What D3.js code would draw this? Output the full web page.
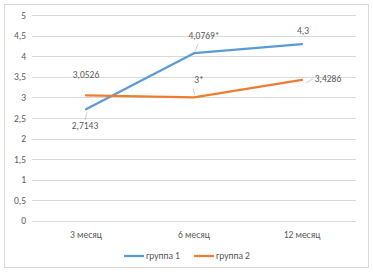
<!DOCTYPE html>
<html>
<head>
<meta charset="utf-8">
<script src="https://cdn.jsdelivr.net/npm/d3@7"></script>
<style>
  body { margin: 0; background: #fff; }
  text { font-family: Calibri, "Carlito", "Liberation Sans", "DejaVu Sans", sans-serif; fill: #595959; }
</style>
</head>
<body>
<svg id="chart"></svg>
<script>
(function () {
    const width = 373;
    const height = 276;

    const categories = ["3 месяц", "6 месяц", "12 месяц"];
    const group1 = [2.7143, 4.0769, 4.3];
    const group2 = [3.0526, 3, 3.4286];
    const labels1 = ["2,7143", "4,0769*", "4,3"];
    const labels2 = ["3,0526", "3*", "3,4286"];
    const yTicks = [0, 0.5, 1, 1.5, 2, 2.5, 3, 3.5, 4, 4.5, 5];
    const seriesNames = ["группа 1", "группа 2"];
    const colors = ["#5B9BD5", "#ED7D31"];

    const svg = d3.select("#chart")
        .attr("width", width)
        .attr("height", height);

    // chart frame
    svg.append("rect")
        .attr("x", 4.5).attr("y", 4.5)
        .attr("width", 364).attr("height", 263)
        .attr("fill", "#fff")
        .attr("stroke", "#d9d9d9");

    const x = d3.scaleBand().domain(categories).range([32, 356]);
    const y = d3.scaleLinear().domain([0, 5]).range([220.7, 15.3]);

    // gridlines
    svg.append("g")
        .selectAll("line")
        .data(yTicks)
        .join("line")
        .attr("x1", 32).attr("x2", 356)
        .attr("y1", d => Math.round(y(d)) + 0.5)
        .attr("y2", d => Math.round(y(d)) + 0.5)
        .attr("stroke", "#d9d9d9")
        .attr("stroke-width", 1);

    // y tick labels
    svg.append("g")
        .selectAll("text")
        .data(yTicks)
        .join("text")
        .attr("x", 26)
        .attr("y", d => y(d) + 3.5)
        .attr("text-anchor", "end")
        .attr("font-size", 9.5)
        .text(d => String(d).replace(".", ","));

    // category labels
    svg.append("g")
        .selectAll("text")
        .data(categories)
        .join("text")
        .attr("x", d => x(d) + x.bandwidth() / 2)
        .attr("y", 238)
        .attr("text-anchor", "middle")
        .attr("font-size", 9.5)
        .text(d => d);

    const cx = i => x(categories[i]) + x.bandwidth() / 2;

    const line = d3.line()
        .x((d, i) => cx(i))
        .y(d => y(d));

    [group1, group2].forEach((s, k) => {
        svg.append("path")
            .datum(s)
            .attr("fill", "none")
            .attr("stroke", colors[k])
            .attr("stroke-width", 2.25)
            .attr("stroke-linejoin", "round")
            .attr("stroke-linecap", "round")
            .attr("d", line);
    });

    // data labels: offsets relative to the point, plus leader line flag
    const labelPos1 = [[-1, 20, true], [10, -14, true], [1, -10, false]];
    const labelPos2 = [[0, -17, false], [5, -14, true], [26, 2, true]];

    function drawLabels(s, texts, pos) {
        s.forEach((v, i) => {
            const px = cx(i), py = y(v);
            const [dx, dy, leader] = pos[i];
            if (leader) {
                let lx = px + dx, ly = py + dy;
                let ex, ey;
                if (Math.abs(dx) > 15) { ex = lx - 15; ey = ly - 3; }
                else if (dy > 0) { ex = lx; ey = ly - 9; }
                else { ex = lx - 6; ey = ly + 5; }
                svg.append("line")
                    .attr("x1", px + (dx > 15 ? 4 : 1)).attr("y1", py + (dy > 0 ? 3 : -2))
                    .attr("x2", ex).attr("y2", ey)
                    .attr("stroke", "#bfbfbf")
                    .attr("stroke-width", 0.75);
            }
            svg.append("text")
                .attr("x", px + dx)
                .attr("y", py + dy)
                .attr("text-anchor", "middle")
                .attr("font-size", 9.5)
                .text(texts[i]);
        });
    }

    drawLabels(group1, labels1, labelPos1);
    drawLabels(group2, labels2, labelPos2);

    // legend
    const legendX = [124, 194];
    seriesNames.forEach((name, k) => {
        svg.append("line")
            .attr("x1", legendX[k]).attr("x2", legendX[k] + 20)
            .attr("y1", 256).attr("y2", 256)
            .attr("stroke", colors[k])
            .attr("stroke-width", 2.25);
        svg.append("text")
            .attr("x", legendX[k] + 22)
            .attr("y", 259)
            .attr("font-size", 9.5)
            .text(name);
    });
})();
</script>
</body>
</html>
